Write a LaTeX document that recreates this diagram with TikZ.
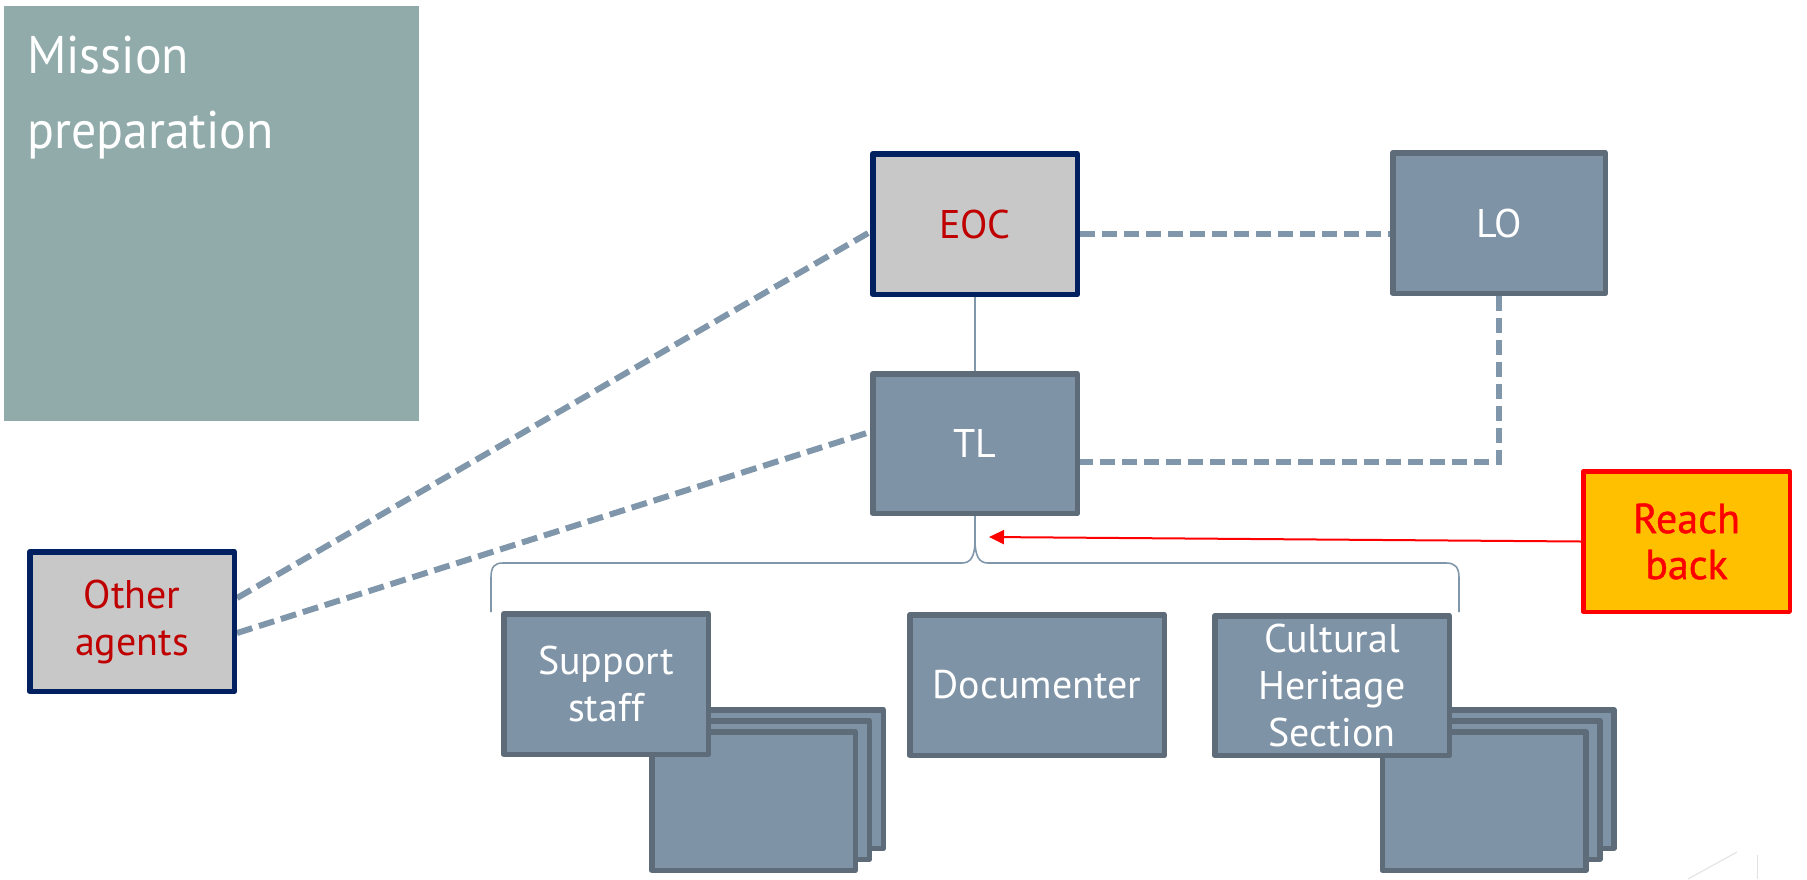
\documentclass[tikz,border=0pt]{standalone}
\usepackage{fontspec}
\setmainfont{PT Sans}
\newfontfamily\mpfont[FakeStretch=0.94]{PT Sans}
\newfontfamily\rbfont[FakeBold=1]{PT Sans}
\usetikzlibrary{arrows.meta,calc,backgrounds}
\definecolor{slatefill}{RGB}{127,147,166}
\definecolor{slateborder}{RGB}{94,108,121}
\definecolor{navyborder}{RGB}{0,32,96}
\definecolor{eocgray}{RGB}{200,200,200}
\definecolor{darkred}{RGB}{192,0,0}
\definecolor{missionteal}{RGB}{145,171,171}
\definecolor{rbfill}{RGB}{255,192,0}
\definecolor{rbred}{RGB}{255,0,0}
\definecolor{dashcol}{RGB}{128,150,170}
\definecolor{faintgray}{RGB}{225,225,225}
\begin{document}
\begin{tikzpicture}[x=1pt,y=-1pt,
  box/.style={rectangle, inner sep=0pt, line width=5.5pt, line join=round, align=center,
    font=\fontsize{40}{47}\selectfont},
  slatebox/.style={box, fill=slatefill, draw=slateborder, text=white},
  greybox/.style={box, fill=eocgray, draw=navyborder, text=darkred},
  rbbox/.style={box, fill=rbfill, draw=rbred, text=rbred, line width=4.5pt,
    font=\rbfont\fontsize{42}{46}\selectfont},
  stackbox/.style={slatebox, minimum width=203.5pt, minimum height=138.5pt},
  missionbox/.style={rectangle, inner sep=0pt, fill=missionteal, draw=none,
    minimum width=415pt, minimum height=415pt},
  mptext/.style={inner sep=0pt, text=white, font=\mpfont\fontsize{53}{60}\selectfont},
  dashline/.style={draw=dashcol, line width=6pt, dash pattern=on 15pt off 7pt},
  diagline/.style={draw=dashcol, line width=6pt, dash pattern=on 16pt off 7pt},
  thinline/.style={draw=dashcol, line width=1.6pt},
  redarrow/.style={draw=rbred, line width=2pt, -{Triangle[length=15pt,width=14pt]}},
  faint/.style={draw=faintgray, line width=1pt}
]
\useasboundingbox (0,0) rectangle (1807,879);

% mission preparation panel
\node[missionbox] (mp) at (211.5,213.5) {};
\node[mptext, anchor=base west] (mp1) at (27,73) {Mission};
\node[mptext, anchor=base west] (mp2) at (27,148) {preparation};

% main nodes
\node[greybox, minimum width=204.5pt, minimum height=140.5pt] (eoc) at (975,224) {EOC};
\node[slatebox, minimum width=212.5pt, minimum height=140.5pt] (lo) at (1499,223) {LO};
\node[slatebox, minimum width=204.5pt, minimum height=139.5pt] (tl) at (975,443.5) {TL};
\node[greybox, minimum width=204.5pt, minimum height=139.5pt] (oa) at (132,621.5) {Other\\agents};
\node[rbbox, minimum width=206.5pt, minimum height=140.5pt] (rb) at (1686.5,541.5) {Reach\\back};

% stacks behind support staff
\node[stackbox] (ss2) at (781.5,779) {};
\node[stackbox] (ss1) at (767.5,790) {};
\node[stackbox] (ss0) at (753.5,801) {};
% stacks behind cultural heritage
\node[stackbox] (ch2) at (1512,779) {};
\node[stackbox] (ch1) at (1498,790) {};
\node[stackbox] (ch0) at (1484,801) {};

\node[slatebox, minimum width=204.5pt, minimum height=140.5pt] (ss) at (606,684) {Support\\staff};
\node[slatebox, minimum width=254.5pt, minimum height=140.5pt] (doc) at (1037,685) {Documenter};
\node[slatebox, minimum width=234.5pt, minimum height=139.5pt] (chs) at (1332,685.5) {Cultural\\Heritage\\Section};

\coordinate (tlr) at ([yshift=-18.5pt]tl.east);
\coordinate (rbtip) at (989,537);
\coordinate (brL) at (491,612);
\coordinate (brR) at (1459,612);

\begin{pgfonlayer}{background}
  \draw[dashline] ([yshift=-10pt]eoc.east) -- ([yshift=-10pt]eoc.east -| lo.west);
  \draw[dashline] (lo.south) |- (tlr);
  \draw[diagline] ([yshift=23.5pt]oa.east) -- ([yshift=-8pt]eoc.west);
  \draw[diagline] ([yshift=-11.5pt]oa.east) -- ([yshift=11.5pt]tl.west);
  \draw[thinline] (eoc.south) -- (tl.north);
  \draw[thinline] (tl.south) -- (975,540) .. controls (975,556) and (971,563) .. (962,563)
     -- (503,563) .. controls (494,563) and (491,567) .. (491,578) -- (brL);
  \draw[thinline] (tl.south) -- (975,540) .. controls (975,556) and (979,563) .. (988,563)
     -- (1446,563) .. controls (1455,563) and (1459,567) .. (1459,578) -- (brR);
\end{pgfonlayer}
\draw[redarrow] (rb.west) -- (rbtip);

% faint marks bottom right
\draw[faint] (1688,879) -- (1737,852);
\draw[faint] (1757,855) -- (1757,879);
\end{tikzpicture}
\end{document}
